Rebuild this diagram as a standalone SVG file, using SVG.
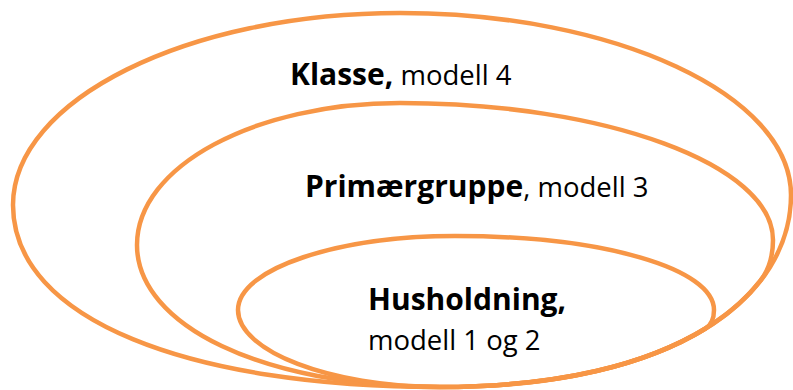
<svg xmlns="http://www.w3.org/2000/svg" width="793" height="390" viewBox="0 0 793 390">
<style>
.e{fill:none;stroke:#F79646;stroke-width:4.5}
.t{font-family:"Open Sans","Liberation Sans",sans-serif;fill:#000}
.b{font-weight:bold;font-size:30px}
.r{font-weight:normal;font-size:27.5px}
</style>
<rect width="793" height="390" fill="#fff"/>
<g id="klasse">
<path class="e" d="M400,13 C615,13 791,95 791,195 C791,295 680,387 440,387 C190,387 13,320 13,205 C13,100 187,13 400,13 Z"/>
<text class="t" x="290" y="85"><tspan class="b">Klasse,</tspan><tspan class="r"> modell 4</tspan></text>
</g>
<g id="primaergruppe">
<path class="e" d="M400,103 C606,103 773,165 773,240 C773,255 770,268.3 760.5,280.6 C712.8,341.9 608,387 440,387 C262,387 137,325 137,245 C137,166 255,103 400,103 Z"/>
<text class="t" x="305" y="197"><tspan class="b">Primærgruppe</tspan><tspan class="r">, modell 3</tspan></text>
</g>
<g id="husholdning">
<path class="e" d="M455,236 C605,236 714,269 714,310 C714,317 712.4,324.2 705.5,328.5 C647.75,364 560,387 440,387 C330,387 238,351 238,310 C238,268 340,236 455,236 Z"/>
<text class="t" x="368" y="310"><tspan class="b">Husholdning,</tspan></text>
<text class="t r" x="368" y="350">modell 1 og 2</text>
</g>
<g id="connectors"/>
</svg>
